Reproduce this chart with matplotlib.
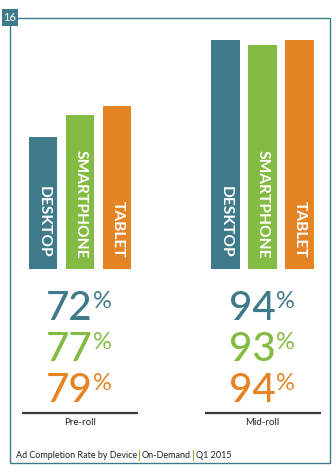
import matplotlib.pyplot as plt
from matplotlib.patches import Rectangle

plt.rcParams['font.family'] = ['Lato', 'DejaVu Sans']

# completion rate (%) by device, per ad position
positions = ['Pre-roll', 'Mid-roll']
devices = ['DESKTOP', 'SMARTPHONE', 'TABLET']
rates = {
    'Pre-roll': [72, 77, 79],
    'Mid-roll': [94, 93, 94],
}
colors = ['#3e7a8a', '#84bb42', '#e58425']
page = '16'
footer = ['Ad Completion Rate by Device', 'On-Demand', 'Q1 2015']

W, H = 336, 473
fig = plt.figure(figsize=(W / 100, H / 100), dpi=100)

# overlay axes in pixel units (origin top-left)
bg = fig.add_axes([0, 0, 1, 1])
bg.set_xlim(0, W)
bg.set_ylim(H, 0)
bg.axis('off')

# bar axes: x in pixels, y in percent with a truncated baseline
base_px, px_per_pct, y0 = 269, 4.4, 42
ax = fig.add_axes([0, (H - base_px) / H, 1, (100 - y0) * px_per_pct / H])
ax.set_xlim(0, W)
ax.set_ylim(y0, 100)
ax.axis('off')

group_centers = [80, 262.5]
bar_w, bar_step = 28.5, 37

for pos, gc in zip(positions, group_centers):
    vals = rates[pos]
    for i, (dev, v, c) in enumerate(zip(devices, vals, colors)):
        x = gc + (i - 1) * bar_step
        ax.bar(x, v - y0, bottom=y0, width=bar_w, color=c, linewidth=0)
        ax.text(x + 0.5, y0 + 11 / px_per_pct, dev, rotation=-90, ha='center', va='bottom',
                color='white', fontsize=11.2, fontweight='bold')
    # big percentage figures
    for j, (v, c) in enumerate(zip(vals, colors)):
        base = 320 + j * 41
        bg.text(gc + 13, base, f'{v}', ha='right', va='baseline', color=c,
                fontsize=29, fontweight=500)
        bg.text(gc + 13.5, base - 29, '%', ha='left', va='top', color=c, fontsize=17)
    bg.plot([gc - 58, gc + 58], [413, 413], color='#3a3a3a', lw=1.6, solid_capstyle='butt')
    bg.text(gc, 422, pos, ha='center', va='center', color='#222222', fontsize=7)

# page frame and number tab
bg.add_patch(Rectangle((9.5, 18), 320.5, 445, fill=False, ec='#3e7a8a', lw=1))
bg.add_patch(Rectangle((2, 9), 16, 17, fc='#3e7a8a', ec='none'))
bg.text(10, 17.5, page, ha='center', va='center', color='white', fontsize=8)

# footer with green separators
x = 15.5
for k, part in enumerate(footer):
    t = bg.text(x, 455, part, ha='left', va='center', color='#222222', fontsize=6.5)
    fig.canvas.draw()
    bb = t.get_window_extent()
    x += bb.width + 2.5
    if k < len(footer) - 1:
        bg.plot([x, x], [450, 460], color='#84bb42', lw=0.8)
        x += 2.5

fig.savefig('out.png', dpi=100)
